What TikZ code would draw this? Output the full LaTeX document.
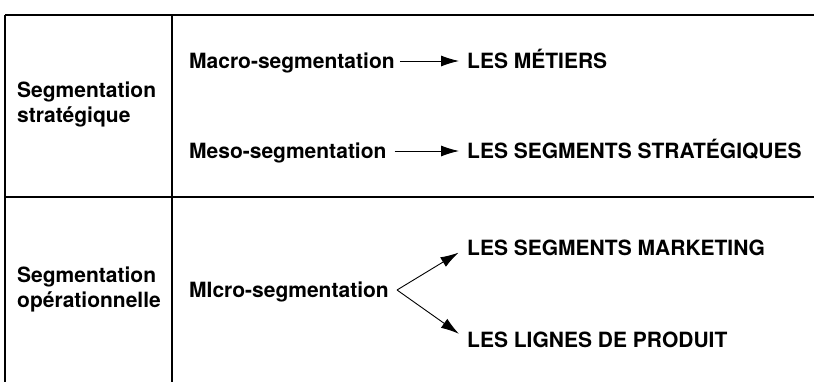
\documentclass[tikz,border=0pt]{standalone}
\usepackage{fontspec}
\setmainfont{TeX Gyre Heros}
\usetikzlibrary{arrows.meta}
\begin{document}
\begin{tikzpicture}[x=1pt,y=-1pt,
  txt/.style={font=\fontsize{21}{25}\selectfont\bfseries, inner sep=0pt, text height=15pt, text depth=0pt, anchor=base west},
  lbl/.style={font=\fontsize{21}{25}\selectfont\bfseries, inner sep=0pt, align=left, anchor=west},
  rule/.style={line width=1.2pt},
  toprule/.style={line width=1.6pt},
  arr/.style={line width=0.9pt, -{Latex[length=18pt,width=11pt]}}]
\useasboundingbox (0,0) rectangle (814,382);
% frame
\coordinate (tl) at (5,15);
\coordinate (tr) at (814,15);
\coordinate (bl) at (5,382);
\coordinate (ct) at (172,15);
\coordinate (cb) at (172,382);
\coordinate (ml) at (5,197);
\coordinate (mr) at (814,197);
\draw[toprule] (tl) -- (tr);
\draw[rule] (bl) -- (tl);
\draw[rule] (ct) -- (cb);
\draw[rule] (ml) -- (mr);
% left labels
\node[lbl] (strat) at (17,104) {Segmentation\\stratégique};
\node[lbl] (oper) at (17,289) {Segmentation\\opérationnelle};
% right texts
\node[txt] (macro) at (189,68.5) {Macro-segmentation};
\node[txt] (metiers) at (467,68.5) {LES MÉTIERS};
\node[txt] (meso) at (189,158.5) {Meso-segmentation};
\node[txt] (strseg) at (467,158.5) {LES SEGMENTS STRATÉGIQUES};
\node[txt] (micro) at (189,297.5) {MIcro-segmentation};
\node[txt] (mkt) at (467,255) {LES SEGMENTS MARKETING};
\node[txt] (lignes) at (467,347) {LES LIGNES DE PRODUIT};
% arrows
\draw[arr, shorten <=5pt, shorten >=8pt] (macro.east) -- (metiers.west);
\draw[arr, shorten <=8pt, shorten >=8pt] (meso.east) -- (strseg.west);
\coordinate (br) at ([xshift=8pt]micro.east);
\draw[arr, shorten >=10pt] (br) -- (mkt.west);
\draw[arr, shorten >=10pt] (br) -- (lignes.west);
\end{tikzpicture}
\end{document}
